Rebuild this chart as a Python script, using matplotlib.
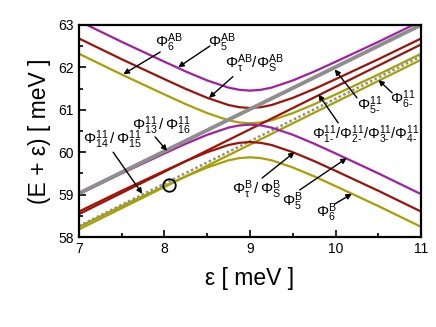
import numpy as np
import matplotlib
matplotlib.use("Agg")
import matplotlib.pyplot as plt
from matplotlib.ticker import MultipleLocator

plt.rcParams["font.family"] = ["Liberation Sans", "DejaVu Sans"]
plt.rcParams["mathtext.fontset"] = "custom"
plt.rcParams["mathtext.rm"] = "Liberation Sans"
plt.rcParams["mathtext.it"] = "Liberation Sans"
plt.rcParams["mathtext.bf"] = "Liberation Sans:bold"

# detuning grid (meV) for the anti-crossing branches
eps = [7.0, 7.5, 8.0, 8.25, 8.5, 8.75, 8.875, 9.0, 9.125, 9.25, 9.5, 9.75, 10.0, 10.5, 11.0]

# magenta pair (Phi_5)
mag_up = [63.09, 62.60, 62.13, 61.90, 61.69, 61.52, 61.47, 61.45, 61.47, 61.52, 61.69, 61.90, 62.13, 62.60, 63.09]
mag_lo = [59.01, 59.50, 59.97, 60.20, 60.41, 60.58, 60.63, 60.65, 60.63, 60.58, 60.41, 60.20, 59.97, 59.50, 59.01]
# red pair (Phi_tau / Phi_S)
red_up = [62.68, 62.19, 61.72, 61.49, 61.28, 61.11, 61.06, 61.04, 61.06, 61.11, 61.28, 61.49, 61.72, 62.19, 62.68]
red_lo = [58.60, 59.09, 59.56, 59.79, 60.00, 60.17, 60.22, 60.24, 60.22, 60.17, 60.00, 59.79, 59.56, 59.09, 58.60]
# gold pair (Phi_6)
gold_up = [62.32, 61.83, 61.36, 61.13, 60.92, 60.75, 60.70, 60.68, 60.70, 60.75, 60.92, 61.13, 61.36, 61.83, 62.32]
gold_lo = [58.24, 58.73, 59.20, 59.43, 59.64, 59.81, 59.86, 59.88, 59.86, 59.81, 59.64, 59.43, 59.20, 58.73, 58.24]

# uncoupled straight levels
eps_ends = [7.0, 11.0]
gray_line = [59.03, 63.00]
red_line = [58.54, 62.54]
gold_line = [58.18, 62.18]
dot_line = [58.26, 62.26]

C_MAG = "#a21fa2"
C_RED = "#a01208"
C_GOLD = "#a8a000"
C_GRAY = "#8e8e8e"

fig = plt.figure(figsize=(4.36, 3.27), dpi=100)
ax = fig.add_axes([0.181, 0.275, 0.785, 0.649])

lw = 1.6
ax.plot(eps_ends, gold_line, color=C_GOLD, lw=lw)
ax.plot(eps, gold_up, color=C_GOLD, lw=lw)
ax.plot(eps, gold_lo, color=C_GOLD, lw=lw)
ax.plot(eps_ends, dot_line, color=C_GRAY, lw=1.8, ls=(0, (1, 1)))
ax.plot(eps_ends, red_line, color=C_RED, lw=lw)
ax.plot(eps, red_up, color=C_RED, lw=lw)
ax.plot(eps, red_lo, color=C_RED, lw=lw)
ax.plot(eps, mag_up, color=C_MAG, lw=lw)
ax.plot(eps, mag_lo, color=C_MAG, lw=lw)
ax.plot(eps_ends, gray_line, color=C_GRAY, lw=2.8)

ax.plot([8.05], [59.22], marker="o", ms=9, mfc="none", mec="black", mew=1.3)

ax.set_xlim(7, 11)
ax.set_ylim(58, 63)
ax.xaxis.set_major_locator(MultipleLocator(1))
ax.xaxis.set_minor_locator(MultipleLocator(0.5))
ax.yaxis.set_major_locator(MultipleLocator(1))
ax.yaxis.set_minor_locator(MultipleLocator(0.5))
ax.tick_params(which="both", direction="in", top=False, right=False, labelsize=10, width=1.2)
ax.tick_params(which="major", length=5)
ax.tick_params(which="minor", length=3)
for sp in ax.spines.values():
  sp.set_linewidth(1.6)

ax.set_xlabel("ε [ meV ]", fontsize=16.5, labelpad=8)
ax.set_ylabel("(E + ε) [ meV ]", fontsize=16.5, labelpad=5)

# labels: (text, text position, arrow tail, arrow head, font size)
labels = [
  (r"$\Phi^{AB}_{6}$", (8.05, 62.58), (7.95, 62.36), (7.52, 61.84), 11),
  (r"$\Phi^{AB}_{5}$", (8.67, 62.58), (8.53, 62.50), (8.16, 62.00), 11),
  (r"$\Phi^{AB}_{\tau}/\Phi^{AB}_{S}$", (9.05, 62.08), (8.80, 61.78), (8.52, 61.28), 11),
  (r"$\Phi^{11}_{5\text{-}}$", (10.40, 61.09), (10.25, 61.28), (9.99, 61.95), 11),
  (r"$\Phi^{11}_{6\text{-}}$", (10.78, 61.23), (10.66, 61.40), (10.50, 61.70), 11),
  (r"$\Phi^{11}_{1\text{-}}/\Phi^{11}_{2\text{-}}/\Phi^{11}_{3\text{-}}/\Phi^{11}_{4\text{-}}$",
   (10.35, 60.41), (10.03, 60.69), (9.80, 61.36), 10.5),
  (r"$\Phi^{11}_{13}\,/\,\Phi^{11}_{16}$", (7.96, 60.62), (7.89, 60.36), (8.03, 60.03), 11),
  (r"$\Phi^{11}_{14}\,/\,\Phi^{11}_{15}$", (7.39, 60.29), (7.40, 60.00), (7.74, 59.02), 11),
  (r"$\Phi^{B}_{\tau}\,/\,\Phi^{B}_{S}$", (9.08, 59.11), (9.14, 59.39), (9.52, 60.00), 11),
  (r"$\Phi^{B}_{5}$", (9.49, 58.83), (9.58, 59.11), (10.13, 59.86), 11),
  (r"$\Phi^{B}_{6}$", (9.89, 58.57), (9.99, 58.78), (10.19, 59.02), 11),
]
for txt, tpos, tail, head, fs in labels:
  ax.text(tpos[0], tpos[1], txt, fontsize=fs, ha="center", va="center")
  ax.annotate("", xy=head, xytext=tail,
              arrowprops=dict(arrowstyle="-|>", color="black", lw=1.0,
                              mutation_scale=8, shrinkA=0, shrinkB=0))

fig.savefig("out.png", dpi=100)
